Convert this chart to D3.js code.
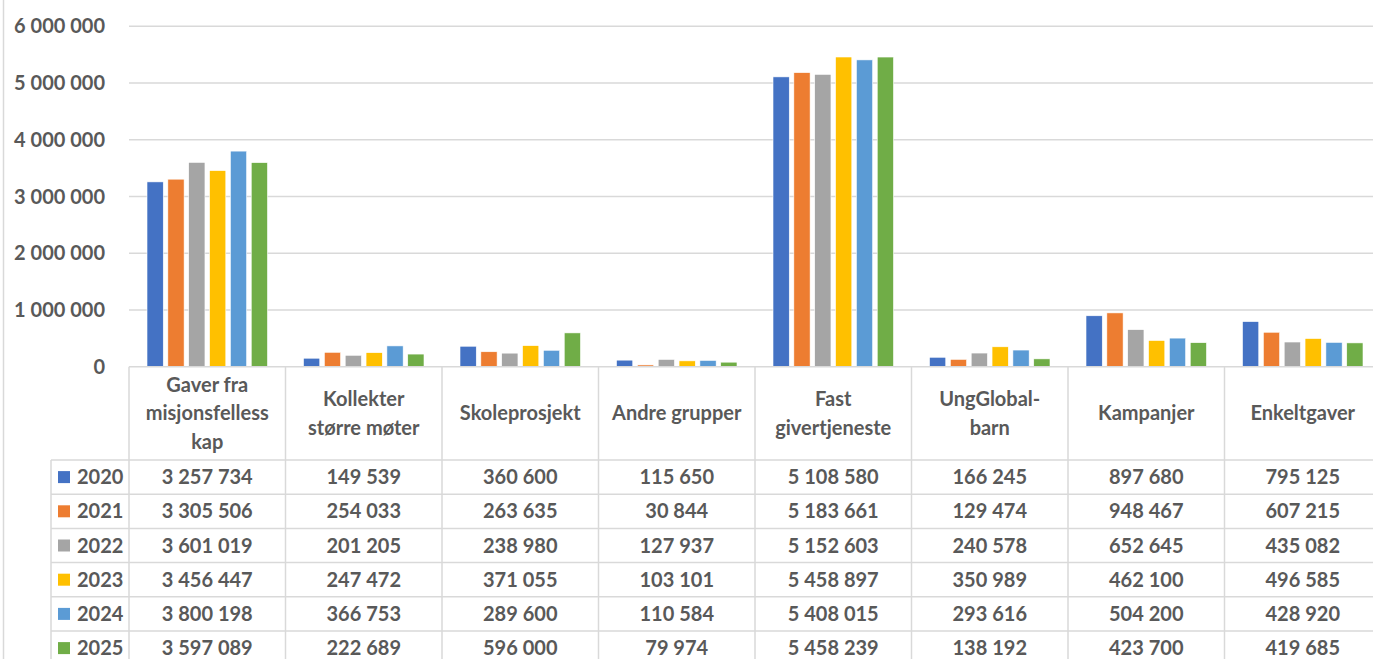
<!DOCTYPE html>
<html><head><meta charset="utf-8">
<script src="https://cdn.jsdelivr.net/npm/d3@7"></script>
<style>body{margin:0;background:#fff;} svg{display:block;}</style>
</head><body>
<svg id="c" width="1373" height="659"></svg>
<script>
const categories = [["Gaver fra","misjonsfelless","kap"],["Kollekter","større møter"],["Skoleprosjekt"],["Andre grupper"],["Fast","givertjeneste"],["UngGlobal-","barn"],["Kampanjer"],["Enkeltgaver"]];
const years = ["2020","2021","2022","2023","2024","2025"];
const v2020 = [3257734,149539,360600,115650,5108580,166245,897680,795125];
const v2021 = [3305506,254033,263635,30844,5183661,129474,948467,607215];
const v2022 = [3601019,201205,238980,127937,5152603,240578,652645,435082];
const v2023 = [3456447,247472,371055,103101,5458897,350989,462100,496585];
const v2024 = [3800198,366753,289600,110584,5408015,293616,504200,428920];
const v2025 = [3597089,222689,596000,79974,5458239,138192,423700,419685];
const colors = ["#4472C4","#ED7D31","#A5A5A5","#FFC000","#5B9BD5","#70AD47"];
const yTicks = [0,1000000,2000000,3000000,4000000,5000000,6000000];

const series = [v2020,v2021,v2022,v2023,v2024,v2025];
const svg = d3.select("#c");
const font = "Lato, 'Open Sans', sans-serif";
const fs = 20;
const txt = "#595959";
const grid = "#D9D9D9";

const x0 = 129, x1 = 1381, yTop = 26.3, yBot = 366.7;
const x = d3.scaleBand().domain(d3.range(categories.length)).range([x0,x1]).paddingInner(0).paddingOuter(0);
const xi = d3.scaleBand().domain(d3.range(years.length)).range([18, x.bandwidth()-18]).paddingInner(0.22);
const y = d3.scaleLinear().domain([0,6000000]).range([yBot,yTop]);
const fmt = n => d3.format(",")(n).replace(/,/g," ");

svg.append("line").attr("x1",3.5).attr("x2",3.5).attr("y1",0).attr("y2",659).attr("stroke",grid).attr("stroke-width",1.5);

svg.append("g").selectAll("line").data(yTicks.slice(1)).join("line")
  .attr("x1",x0).attr("x2",x1).attr("y1",d=>y(d)).attr("y2",d=>y(d))
  .attr("stroke",grid).attr("stroke-width",1.5);

svg.append("g").selectAll("text").data(yTicks).join("text")
  .attr("x",105).attr("y",d=>y(d)).attr("dy","0.35em").attr("text-anchor","end")
  .attr("font-family",font).attr("font-weight","bold").attr("font-size",fs).attr("fill",txt)
  .text(d=>fmt(d));

const gs = svg.append("g").selectAll("g").data(categories).join("g")
  .attr("transform",(d,i)=>`translate(${x(i)},0)`);
gs.selectAll("rect").data((d,i)=>series.map((s,k)=>({k,v:s[i]}))).join("rect")
  .attr("x",d=>xi(d.k)).attr("width",xi.bandwidth())
  .attr("y",d=>y(d.v)).attr("height",d=>yBot-y(d.v))
  .attr("fill",d=>colors[d.k]).attr("stroke","#fff").attr("stroke-width",0.6);

const hdrTop = yBot, hdrBot = 460, rowH = 34.2;
const tbl = svg.append("g");
tbl.append("line").attr("x1",x0).attr("x2",x1).attr("y1",hdrTop).attr("y2",hdrTop).attr("stroke",grid).attr("stroke-width",1.5);
tbl.selectAll("line.h").data(d3.range(years.length+1)).join("line").attr("class","h")
  .attr("x1",51).attr("x2",x1).attr("y1",i=>hdrBot+i*rowH).attr("y2",i=>hdrBot+i*rowH)
  .attr("stroke",grid).attr("stroke-width",1.5);
tbl.selectAll("line.v").data(d3.range(categories.length+1)).join("line").attr("class","v")
  .attr("x1",i=>x0+i*x.bandwidth()).attr("x2",i=>x0+i*x.bandwidth())
  .attr("y1",hdrTop).attr("y2",659).attr("stroke",grid).attr("stroke-width",1.5);
tbl.append("line").attr("x1",51).attr("x2",51).attr("y1",hdrBot).attr("y2",659).attr("stroke",grid).attr("stroke-width",1.5);

const lh = 28.5;
categories.forEach((lines,i)=>{
  const cx = x(i)+x.bandwidth()/2;
  const cy = (hdrTop+hdrBot)/2;
  const t = tbl.append("text").attr("text-anchor","middle").attr("font-family",font)
    .attr("font-weight","bold").attr("font-size",fs).attr("fill",txt);
  lines.forEach((l,j)=>{
    t.append("tspan").attr("x",cx).attr("y",cy+(j-(lines.length-1)/2)*lh).attr("dy","0.35em").text(l);
  });
});

years.forEach((yr,k)=>{
  const cy = hdrBot + k*rowH + rowH/2;
  tbl.append("rect").attr("x",58).attr("y",cy-6).attr("width",12).attr("height",12).attr("fill",colors[k]);
  tbl.append("text").attr("x",77).attr("y",cy).attr("dy","0.35em").attr("font-family",font)
    .attr("font-weight","bold").attr("font-size",fs).attr("fill",txt).text(yr);
  tbl.selectAll(null).data(series[k]).join("text")
    .attr("x",(d,i)=>x(i)+x.bandwidth()/2).attr("y",cy).attr("dy","0.35em").attr("text-anchor","middle")
    .attr("font-family",font).attr("font-weight","bold").attr("font-size",fs).attr("fill",txt)
    .text(d=>fmt(d));
});
</script>
</body></html>
